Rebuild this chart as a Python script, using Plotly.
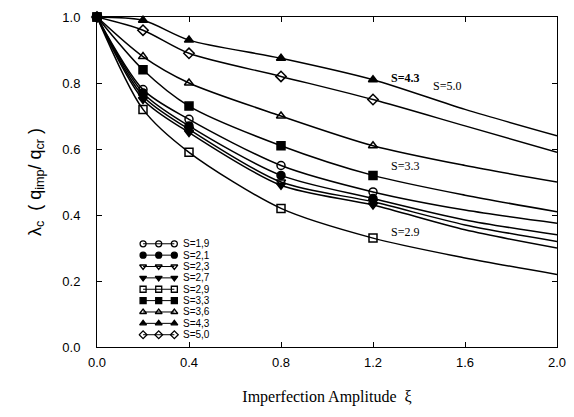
import plotly.graph_objects as go

# measured points
xi_pts = [0.0, 0.2, 0.4, 0.8, 1.2]
# curve points (measured + curve read at 1.6, 2.0)
xi_line = [0.0, 0.2, 0.4, 0.8, 1.2, 1.6, 2.0]

labels = ["S=1,9", "S=2,1", "S=2,3", "S=2,7", "S=2,9", "S=3,3", "S=3,6", "S=4,3", "S=5,0"]
symbols = ["circle-open", "circle", "triangle-down-open", "triangle-down", "square-open",
           "square", "triangle-up-open", "triangle-up", "diamond-open"]

s19 = [1.0, 0.78, 0.69, 0.55, 0.47, 0.415, 0.375]
s21 = [1.0, 0.77, 0.67, 0.52, 0.45, 0.385, 0.34]
s23 = [1.0, 0.76, 0.66, 0.50, 0.44, 0.37, 0.32]
s27 = [1.0, 0.75, 0.65, 0.49, 0.43, 0.355, 0.30]
s29 = [1.0, 0.72, 0.59, 0.42, 0.33, 0.27, 0.22]
s33 = [1.0, 0.84, 0.73, 0.61, 0.52, 0.46, 0.41]
s36 = [1.0, 0.88, 0.80, 0.70, 0.61, 0.55, 0.50]
s43 = [1.0, 0.99, 0.93, 0.875, 0.81, 0.72, 0.64]
s50 = [1.0, 0.96, 0.89, 0.82, 0.75, 0.67, 0.59]
series = [s19, s21, s23, s27, s29, s33, s36, s43, s50]

xticks = [0.0, 0.4, 0.8, 1.2, 1.6, 2.0]
yticks = [0.0, 0.2, 0.4, 0.6, 0.8, 1.0]

# in-plot curve labels
curve_labels = ["<b>S=4.3</b>", "S=5.0", "S=3.3", "S=2.9"]
curve_label_x = [1.27, 1.45, 1.27, 1.27]
curve_label_y = [0.815, 0.79, 0.55, 0.35]

# legend key layout (legend-box units)
key_x = [0, 1, 2]

fig = go.Figure()
for ys in series:
    fig.add_trace(go.Scatter(x=xi_line, y=ys, mode="lines",
                             line=dict(color="black", width=1.5, shape="spline", smoothing=0.8),
                             showlegend=False, hoverinfo="skip", cliponaxis=False))
for lab, sym, ys in zip(labels, symbols, series):
    fig.add_trace(go.Scatter(x=xi_pts, y=ys[:len(xi_pts)], mode="markers", name=lab, showlegend=False,
                             marker=dict(symbol=sym, size=8, color="black", line=dict(color="black", width=1.5)),
                             cliponaxis=False))

# hand-drawn legend (o--o--o S=..)
for i, (lab, sym) in enumerate(zip(labels, symbols)):
    fig.add_trace(go.Scatter(x=key_x, y=[i] * len(key_x), mode="lines+markers", xaxis="x2", yaxis="y2",
                             showlegend=False, hoverinfo="skip",
                             line=dict(color="black", width=1),
                             marker=dict(symbol=sym, size=6, color="black", line=dict(color="black", width=1.3))))
    fig.add_annotation(x=2.45, y=i, xref="x2", yref="y2", text=lab, showarrow=False, xanchor="left",
                       yanchor="middle", font=dict(family="Liberation Sans", size=10, color="black"))

ann_font = dict(family="Liberation Serif", size=12, color="black")
for txt, ax, ay in zip(curve_labels, curve_label_x, curve_label_y):
    fig.add_annotation(x=ax, y=ay, text=txt, showarrow=False, xanchor="left", yanchor="middle", font=ann_font)

axis_common = dict(showline=True, linecolor="black", linewidth=1, mirror="ticks", ticks="inside", ticklen=5,
                   tickcolor="black", showgrid=False, zeroline=False,
                   tickfont=dict(family="Liberation Sans", size=13, color="black"))
fig.update_xaxes(range=[0, 2.0], tickvals=xticks, ticktext=[f"{v:.1f}" for v in xticks],
                 title=dict(text="Imperfection Amplitude  ξ", font=dict(family="Liberation Serif", size=16, color="black"), standoff=22),
                 ticklabelstandoff=3,
                 **axis_common)
fig.update_yaxes(range=[0, 1.0], tickvals=yticks, ticktext=[f"{v:.1f}" for v in yticks],
                 title=dict(text="λ<sub>c</sub>  ( q<sub>imp</sub>/ q<sub>cr</sub> )", font=dict(family="Liberation Sans", size=18, color="black"), standoff=16),
                 ticklabelstandoff=13,
                 **axis_common)
fig.update_layout(width=574, height=417, margin=dict(l=97, r=17, t=17, b=70, autoexpand=False),
                  plot_bgcolor="white", paper_bgcolor="white", showlegend=False,
                  xaxis2=dict(domain=[0.09, 0.27], range=[-0.3, 5.0], anchor="y2", visible=False, fixedrange=True),
                  yaxis2=dict(domain=[0.02, 0.33], range=[8.5, -0.5], anchor="x2", visible=False, fixedrange=True))
fig.write_html("out.html")
